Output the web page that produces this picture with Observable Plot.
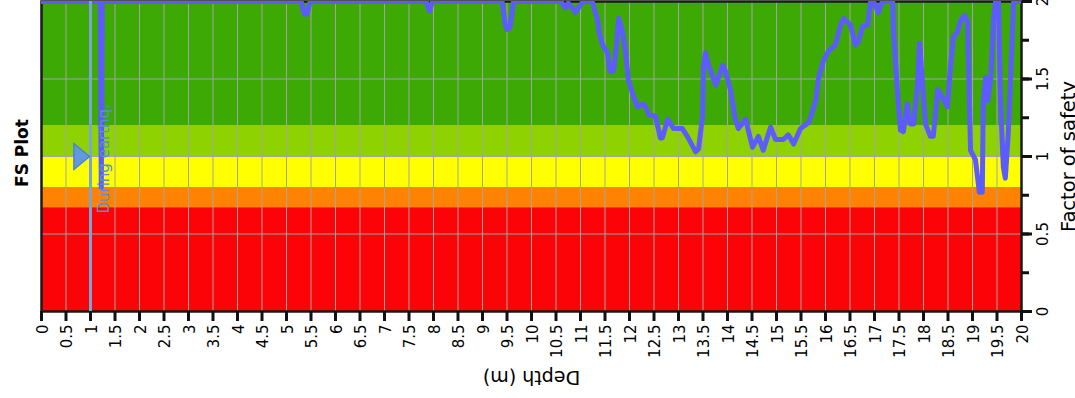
<!DOCTYPE html>
<html><head><meta charset="utf-8">
<script src="https://cdn.jsdelivr.net/npm/d3@7"></script>
<script src="https://cdn.jsdelivr.net/npm/@observablehq/plot@0.6"></script>
<style>body{margin:0;background:#fff;overflow:hidden} svg{display:block}</style>
</head><body><div id="chart"></div>
<script>
const depth = [0,1.2,1.22,1.24,5.3,5.36,5.42,5.48,7.85,7.92,7.98,9.4,9.46,9.5,9.56,9.6,9.63,10.6,10.69,10.75,10.9,11.0,11.06,11.24,11.35,11.38,11.45,11.55,11.6,11.67,11.71,11.78,11.86,11.92,11.98,12.06,12.16,12.27,12.33,12.39,12.53,12.63,12.67,12.78,12.9,13.08,13.18,13.35,13.41,13.49,13.51,13.55,13.61,13.76,13.9,13.96,14.06,14.16,14.22,14.37,14.51,14.63,14.73,14.88,14.98,15.14,15.24,15.35,15.49,15.66,15.8,15.86,15.96,16.06,16.2,16.31,16.37,16.51,16.61,16.67,16.76,16.86,16.92,16.98,17.08,17.16,17.37,17.39,17.47,17.53,17.59,17.67,17.73,17.8,17.88,17.92,17.98,18.04,18.14,18.2,18.29,18.39,18.49,18.55,18.61,18.69,18.76,18.84,18.9,18.92,18.96,19.06,19.14,19.2,19.22,19.27,19.31,19.37,19.43,19.47,19.53,19.57,19.63,19.67,19.73,19.8,19.84,20];
const factorOfSafety = [2,2,0.8,2,2,1.92,1.92,2,2,1.94,2,2,1.86,1.82,1.83,1.92,2,2,1.96,1.99,1.93,1.98,2,2,1.88,1.8,1.72,1.67,1.55,1.55,1.64,1.89,1.8,1.67,1.49,1.41,1.32,1.34,1.32,1.27,1.26,1.12,1.12,1.24,1.18,1.18,1.13,1.03,1.05,1.26,1.58,1.67,1.59,1.46,1.59,1.55,1.43,1.24,1.18,1.24,1.06,1.13,1.04,1.19,1.11,1.11,1.14,1.08,1.18,1.22,1.36,1.51,1.62,1.68,1.72,1.85,1.89,1.85,1.72,1.74,1.84,1.85,2,2,1.93,2,2,1.8,1.41,1.17,1.16,1.34,1.21,1.21,1.47,1.73,1.47,1.21,1.13,1.13,1.43,1.38,1.32,1.58,1.77,1.8,1.88,1.91,1.87,1.58,1.04,0.98,0.77,0.77,1.36,1.51,1.36,1.49,1.88,2,2,1.36,0.93,0.86,1.15,1.69,2,2];

const bandLow = [0, 0.67, 0.8, 1.0, 1.2];
const bandHigh = [0.67, 0.8, 1.0, 1.2, 2.0];
const bandColors = ["#fb0307", "#ff8203", "#ffff00", "#8fd202", "#3ca905"];

const xTicks = [0,0.5,1,1.5,2,2.5,3,3.5,4,4.5,5,5.5,6,6.5,7,7.5,8,8.5,9,9.5,10,10.5,11,11.5,12,12.5,13,13.5,14,14.5,15,15.5,16,16.5,17,17.5,18,18.5,19,19.5,20];
const xGrid = [0.5,1,1.5,2,2.5,3,3.5,4,4.5,5,5.5,6,6.5,7,7.5,8,8.5,9,9.5,10,10.5,11,11.5,12,12.5,13,13.5,14,14.5,15,15.5,16,16.5,17,17.5,18,18.5,19,19.5];
const yTicks = [0,0.5,1,1.5,2];
const yMinorTicks = [0,0.25,0.5,0.75,1,1.25,1.5,1.75,2];
const yGrid = [0.5,1,1.5];

const annotationDepth = [1];
const annotationFS = [1];
const annotationLabelFS = [0.632];
const annotationLabel = ["During earthq."];
const title = ["FS Plot"];
const xLabel = ["Depth (m)"];
const yLabel = ["Factor of safety"];

const data = depth.map((d, i) => ({depth: d, fs: factorOfSafety[i]}));
const bands = bandLow.map((lo, i) => ({lo, hi: bandHigh[i], color: bandColors[i]}));
const marker = annotationDepth.map((d, i) => ({depth: d, fs: annotationFS[i]}));
const label = annotationLabel.map((t, i) => ({depth: annotationDepth[i], fs: annotationLabelFS[i], text: t}));

const rightTriangle = {
  draw(context, size) {
    const r = Math.sqrt(size / Math.PI);
    context.moveTo(-r * 1.2, -r);
    context.lineTo(0, 0);
    context.lineTo(-r * 1.2, r);
    context.closePath();
  }
};

const font = "DejaVu Sans";
const fmt = d => String(d);

const chart = Plot.plot({
  width: 1075, height: 398,
  marginLeft: 41, marginRight: 54, marginTop: 1, marginBottom: 87,
  style: {fontFamily: font, fontSize: "15px", color: "#000", background: "#fff", overflow: "hidden"},
  x: {domain: [0, 20]},
  y: {domain: [0, 2]},
  color: {type: "identity"},
  marks: [
    Plot.rect(bands, {x1: 0, x2: 20, y1: "lo", y2: "hi", fill: "color"}),
    Plot.gridX(xGrid, {stroke: "#a4a4a4", strokeOpacity: 1, strokeWidth: 1}),
    Plot.gridY(yGrid, {stroke: "#a4a4a4", strokeOpacity: 1, strokeWidth: 1}),
    Plot.frame({stroke: "#1a1a1a", strokeWidth: 2.5}),
    Plot.line(data, {x: "depth", y: "fs", stroke: "#5b5bff", strokeWidth: 5, strokeLinejoin: "round", clip: true}),
    Plot.ruleX(annotationDepth, {stroke: "#78a4d6", strokeWidth: 3}),
    Plot.dot(marker, {x: "depth", y: "fs", r: 13, symbol: rightTriangle, fill: "#6399dc", stroke: "#4a85cf", strokeWidth: 1.5, dx: -1}),
    Plot.text(label, {x: "depth", y: "fs", text: "text", rotate: -90, textAnchor: "start", lineAnchor: "middle", dx: 14, fill: "#5b8fd0", fontSize: 15}),
    // x axis ticks and labels
    Plot.axisX(xTicks, {anchor: "bottom", tickSize: 10, strokeWidth: 3, stroke: "#111", fill: "none", label: null}),
    Plot.axisX(xTicks, {anchor: "bottom", tickSize: 0, tickPadding: 13, tickRotate: -90, textAnchor: "end", lineAnchor: "middle", dx: 1.5, fontSize: 15, tickFormat: fmt, label: null}),
    // y axis (right)
    Plot.axisY(yMinorTicks, {anchor: "right", tickSize: 7, strokeWidth: 3, stroke: "#111", fill: "none", label: null}),
    Plot.axisY(yTicks, {anchor: "right", tickSize: 10, strokeWidth: 3, stroke: "#111", fill: "none", label: null}),
    Plot.axisY(yTicks, {anchor: "right", tickSize: 0, tickPadding: 16, tickRotate: -90, textAnchor: "middle", lineAnchor: "top", fontSize: 15, tickFormat: fmt, label: null}),
    // titles
    Plot.text(title, {frameAnchor: "left", text: d => d, rotate: -90, textAnchor: "middle", lineAnchor: "middle", dx: -18.5, dy: -3.5, fontSize: 17, fontWeight: "bold", fill: "#000"}),
    Plot.text(xLabel, {frameAnchor: "bottom", text: d => d, rotate: 180, textAnchor: "middle", lineAnchor: "middle", dy: 66, fontSize: 19, fill: "#000"}),
    Plot.text(yLabel, {frameAnchor: "right", text: d => d, rotate: -90, textAnchor: "middle", lineAnchor: "middle", dx: 47, fontSize: 19.5, fill: "#000"})
  ]
});
document.getElementById("chart").appendChild(chart);
</script>
</body></html>
